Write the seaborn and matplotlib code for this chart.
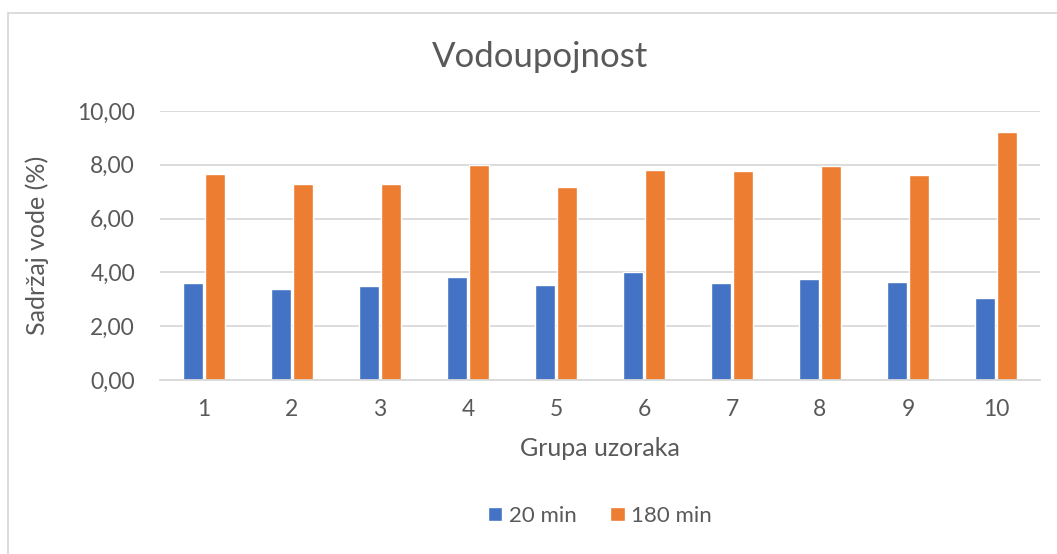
import pandas as pd
import matplotlib.pyplot as plt
import seaborn as sns
from matplotlib.patches import Rectangle
from matplotlib.ticker import FuncFormatter

# data
groups = ['1', '2', '3', '4', '5', '6', '7', '8', '9', '10']
min20 = [3.59, 3.40, 3.49, 3.82, 3.55, 4.02, 3.61, 3.74, 3.66, 3.03]
min180 = [7.67, 7.27, 7.29, 8.00, 7.17, 7.81, 7.76, 7.97, 7.62, 9.23]
series = ['20 min', '180 min']

df = pd.DataFrame({'Grupa': groups * 2,
                   'Vrijeme': [series[0]] * 10 + [series[1]] * 10,
                   'Vrijednost': min20 + min180})

sns.set_theme(style='white')
plt.rcParams['font.family'] = ['Lato', 'DejaVu Sans']
txt = '#595959'

fig = plt.figure(figsize=(10.57, 5.54), dpi=100)
ax = fig.add_axes([160 / 1057, 174 / 554, 880 / 1057, 269 / 554])

sns.barplot(data=df, x='Grupa', y='Vrijednost', hue='Vrijeme', order=groups,
            palette=['#4472C4', '#ED7D31'], width=0.51, gap=0.12, ax=ax,
            saturation=1, legend=True)

ax.set_ylim(0, 10)
ax.set_xlim(-0.5, 9.5)
ax.set_yticks([0, 2, 4, 6, 8, 10])
ax.yaxis.set_major_formatter(FuncFormatter(lambda v, p: f'{v:.2f}'.replace('.', ',')))
ax.grid(axis='y', color='#d9d9d9', linewidth=1.3)
ax.set_axisbelow(True)
for s in ['top', 'right', 'left']:
    ax.spines[s].set_visible(False)
ax.spines['bottom'].set_color('#d9d9d9')
ax.spines['bottom'].set_linewidth(1.3)
ax.tick_params(axis='both', length=0, labelsize=16.5, labelcolor=txt)
ax.tick_params(axis='y', pad=18)
ax.tick_params(axis='x', pad=14)

ax.set_xlabel('Grupa uzoraka', fontsize=18, color=txt, labelpad=12)
ax.set_ylabel('Sadržaj vode (%)', fontsize=18, color=txt, labelpad=20)
fig.text(540 / 1057, 1 - 57 / 554, 'Vodoupojnost', fontsize=25, color=txt,
         ha='center', va='center')

handles, labels = ax.get_legend_handles_labels()
ax.legend(handles, labels, loc='center', bbox_to_anchor=(0.5, -0.505),
          ncol=2, frameon=False, fontsize=16, labelcolor=txt,
          handlelength=0.65, handleheight=0.65, handletextpad=0.3, columnspacing=1.5)

# chart frame
fig.patches.append(Rectangle((8 / 1057, -0.1), 1.2, 0.1 + (554 - 13) / 554,
                             transform=fig.transFigure, fill=False,
                             edgecolor='#d9d9d9', linewidth=1.3))

fig.savefig('out.png', dpi=100)
